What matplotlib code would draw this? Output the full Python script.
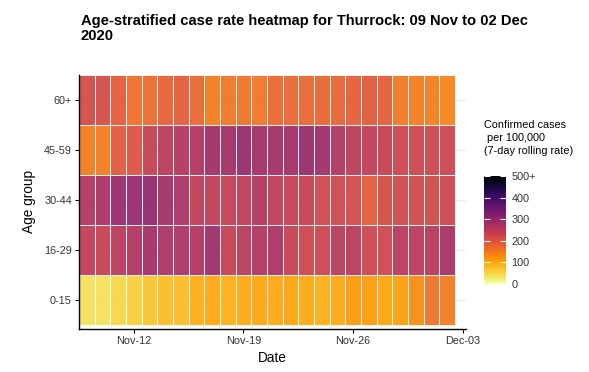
import matplotlib
matplotlib.use("Agg")
import matplotlib.pyplot as plt
import matplotlib.dates as mdates
import numpy as np
import pandas as pd

plt.rcParams['font.family'] = ['Liberation Sans', 'DejaVu Sans']

dates = pd.date_range("2020-11-09", "2020-12-02", freq="D")
age_groups = ["0-15", "16-29", "30-44", "45-59", "60+"]

rate_0_15 = [40, 40, 52, 60, 72, 80, 80, 95, 100, 90, 100, 103, 100, 105, 100, 92, 100,
             115, 112, 105, 110, 130, 162, 150]
rate_16_29 = [245, 238, 255, 265, 285, 272, 272, 265, 290, 238, 255, 265, 272, 238, 230, 230,
              255, 255, 230, 225, 255, 252, 255, 278]
rate_30_44 = [265, 278, 295, 300, 308, 285, 272, 248, 246, 243, 248, 262, 248, 238, 238, 225,
              225, 218, 190, 215, 220, 220, 220, 230]
rate_45_59 = [150, 150, 195, 205, 238, 255, 262, 265, 290, 285, 300, 285, 283, 285, 295, 290,
              265, 250, 246, 238, 230, 228, 230, 230]
rate_60_plus = [218, 215, 190, 165, 170, 185, 190, 175, 150, 158, 160, 158, 172, 175, 175, 176,
                178, 188, 195, 190, 155, 150, 148, 140]

values = np.array([rate_0_15, rate_16_29, rate_30_44, rate_45_59, rate_60_plus])

fig = plt.figure(figsize=(5.89, 3.72), dpi=100)
ax = fig.add_axes([0.134, 0.116, 0.657, 0.683])

xnum = mdates.date2num(dates)
xedges = np.append(xnum - 0.5, xnum[-1] + 0.5)
yedges = np.arange(len(age_groups) + 1) - 0.5

cmap = plt.get_cmap("inferno_r")
for yv in range(len(age_groups)):
    ax.axhline(yv, color="#ebebeb", lw=0.8, zorder=0)
mesh = ax.pcolormesh(xedges, yedges, values, cmap=cmap, vmin=0, vmax=500,
                     edgecolors=(1, 1, 1, 0.45), linewidth=0.6, alpha=0.92, zorder=1)

ax.set_xlim(xnum[0] - 0.5, mdates.date2num(pd.Timestamp("2020-12-03")) + 0.2)
ax.set_ylim(-0.58, 4.5)
ax.set_yticks(range(len(age_groups)))
ax.set_yticklabels(age_groups)
tick_dates = pd.to_datetime(["2020-11-12", "2020-11-19", "2020-11-26", "2020-12-03"])
ax.set_xticks(mdates.date2num(tick_dates))
ax.set_xticklabels([d.strftime("%b-%d") for d in tick_dates])

for s in ["top", "right"]:
    ax.spines[s].set_visible(False)
for s in ["left", "bottom"]:
    ax.spines[s].set_linewidth(1.0)
    ax.spines[s].set_color("black")
ax.tick_params(axis="both", length=3, width=0.8, labelsize=7.8, colors="black",
               labelcolor="#333333", pad=2)
ax.set_xlabel("Date", fontsize=9.8, labelpad=4)
ax.set_ylabel("Age group", fontsize=9.8, labelpad=6)

fig.text(0.137, 0.962, "Age-stratified case rate heatmap for Thurrock: 09 Nov to 02 Dec\n2020",
         fontsize=10.6, fontweight="bold", va="top", ha="left", linespacing=1.12)

cax = fig.add_axes([484 / 589, 1 - 284 / 372, 22 / 589, 108 / 372])
cb = fig.colorbar(mesh, cax=cax)
cb.solids.set_alpha(1)
cb.outline.set_visible(False)
cb.set_ticks([0, 100, 200, 300, 400, 500])
cb.set_ticklabels(["0", "100", "200", "300", "400", "500+"])
cax.tick_params(direction="in", color="white", length=4, width=0.8, left=True, right=True,
                labelsize=7.8, labelcolor="#333333", pad=4)
fig.text(484 / 589, 1 - 120 / 372, "Confirmed cases\n per 100,000\n(7-day rolling rate)",
         fontsize=7.8, va="top", ha="left", linespacing=1.4)

fig.savefig("out.png", dpi=100)
